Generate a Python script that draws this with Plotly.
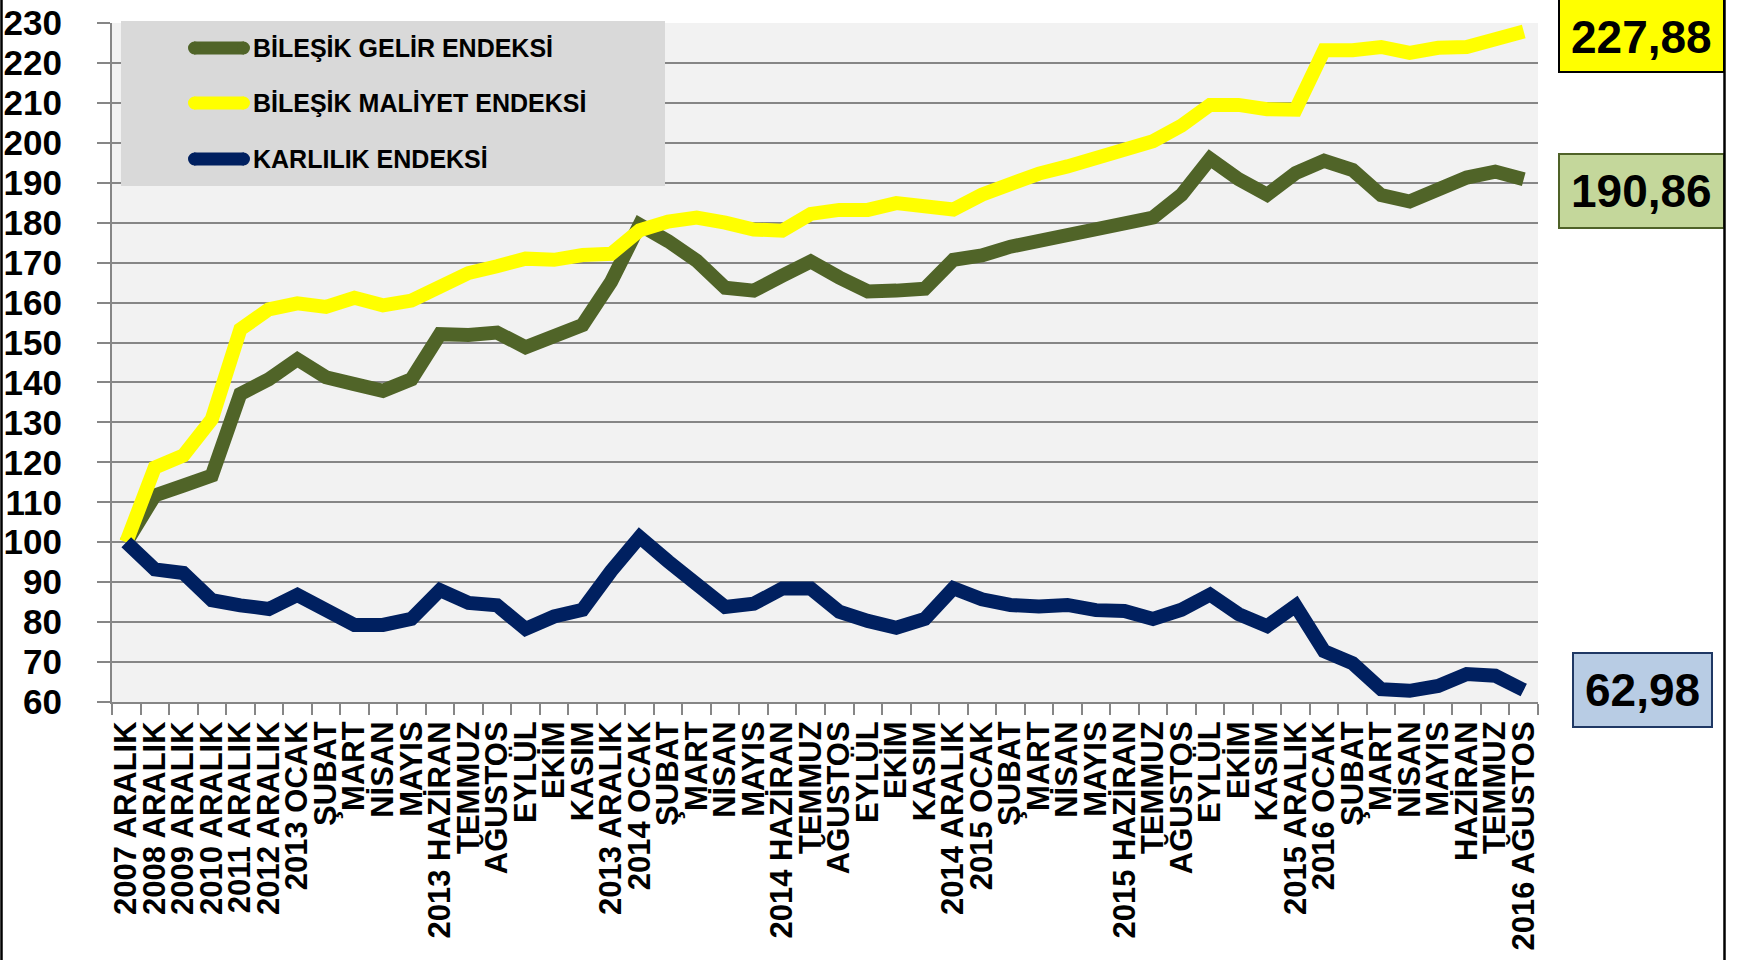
import plotly.graph_objects as go

categories = ["2007 ARALIK", "2008 ARALIK", "2009 ARALIK", "2010 ARALIK", "2011 ARALIK",
              "2012 ARALIK", "2013 OCAK", "ŞUBAT", "MART", "NİSAN", "MAYIS", "2013 HAZİRAN",
              "TEMMUZ", "AĞUSTOS", "EYLÜL", "EKİM", "KASIM", "2013 ARALIK", "2014 OCAK",
              "ŞUBAT", "MART", "NİSAN", "MAYIS", "2014 HAZİRAN", "TEMMUZ", "AĞUSTOS", "EYLÜL",
              "EKİM", "KASIM", "2014 ARALIK", "2015 OCAK", "ŞUBAT", "MART", "NİSAN", "MAYIS",
              "2015 HAZİRAN", "TEMMUZ", "AĞUSTOS", "EYLÜL", "EKİM", "KASIM", "2015 ARALIK",
              "2016 OCAK", "ŞUBAT", "MART", "NİSAN", "MAYIS", "HAZİRAN", "TEMMUZ", "2016 AĞUSTOS"]

gelir = [100, 111.7, 114.2, 116.7, 137.1, 140.8, 145.8, 141.3, 139.6, 137.9,
         140.8, 152.1, 151.9, 152.5, 148.8, 151.3, 154.4, 165.2, 179.5, 175.4,
         170.5, 163.7, 163.0, 166.7, 170.3, 166.3, 162.8, 163.0, 163.5, 170.7,
         171.8, 174.0, 175.5, 177.5, 178.7, 180.0, 181.3, 187.0, 196.0, 190.9,
         187.0, 192.4, 195.5, 193.2, 186.9, 185.3, 188.5, 191.3, 192.8, 190.86]

maliyet = [100, 118.7, 121.7, 130.8, 153.3, 158.3, 159.8, 158.9, 161.2, 159.3,
           160.5, 163.7, 167.4, 169.1, 171.0, 170.7, 171.9, 172.2, 178.1, 180.3,
           181.3, 180.0, 178.3, 178.0, 182.2, 183.2, 183.2, 184.9, 184.1, 183.3,
           187.0, 189.8, 192.3, 194.1, 196.3, 197.8, 200.4, 204.3, 209.5, 209.5,
           208.4, 208.3, 223.2, 223.2, 224.0, 222.5, 223.8, 224.0, 225.7, 227.88]

karlilik = [100, 93.2, 92.3, 85.5, 84.2, 83.3, 86.8, 83.1, 79.3, 79.3,
            80.8, 88.0, 84.8, 84.2, 78.3, 81.4, 83.1, 92.8, 101.3, 95.2,
            89.0, 83.8, 84.6, 88.4, 88.4, 82.6, 80.3, 78.6, 80.8, 88.5,
            85.7, 84.3, 83.9, 84.3, 83.0, 82.8, 80.8, 83.1, 86.9, 82.0,
            79.0, 84.1, 72.7, 69.7, 63.2, 62.8, 64.0, 67.0, 66.6, 62.98]

series_names = ["BİLEŞİK GELİR ENDEKSİ", "BİLEŞİK MALİYET ENDEKSİ", "KARLILIK ENDEKSİ"]
series_colors = ["#506428", "#ffff00", "#002060"]
last_labels = ["190,86", "227,88", "62,98"]
y_ticks = list(range(60, 231, 10))

W, H = 1740, 960
ML, MR, MT, MB = 112, 202, 23, 258
PW, PH = W - ML - MR, H - MT - MB
FONT = "Liberation Sans, Arial, sans-serif"


def px(x):
    return (x - ML) / PW


def py(y):
    return (H - MB - y) / PH


xs = list(range(len(categories)))
fig = go.Figure()
for name, vals, col in zip(series_names, [gelir, maliyet, karlilik], series_colors):
    fig.add_trace(go.Scatter(x=xs, y=vals, mode="lines", name=name,
                             line=dict(color=col, width=14), showlegend=False,
                             hoverinfo="skip"))

shapes = []
annotations = []

# manual legend
shapes.append(dict(type="rect", xref="paper", yref="paper", x0=px(121), x1=px(665),
                   y0=py(186), y1=py(21), fillcolor="#d9d9d9", line=dict(width=0), layer="above"))
legend_y = [48, 103, 159]
for name, col, ly in zip(series_names, series_colors, legend_y):
    shapes.append(dict(type="line", xref="paper", yref="paper", x0=px(194), x1=px(244),
                       y0=py(ly), y1=py(ly), line=dict(color=col, width=13)))
    for cx in (194.5, 243.5):
        shapes.append(dict(type="circle", xref="paper", yref="paper",
                           x0=px(cx - 6.5), x1=px(cx + 6.5), y0=py(ly + 6.5), y1=py(ly - 6.5),
                           fillcolor=col, line=dict(width=0)))
    annotations.append(dict(xref="paper", yref="paper", x=px(251), y=py(ly), text=name,
                            showarrow=False, xanchor="left", yanchor="middle",
                            font=dict(family=FONT, size=25, color="black", weight="bold")))

# value boxes
boxes = [
    (last_labels[1], 1559, 1724, -8, 72, "#ffff00", "#000000", 37),
    (last_labels[0], 1559, 1724, 154, 228, "#c4d79b", "#4f6228", 191),
    (last_labels[2], 1573, 1712, 653, 727, "#b8cce4", "#1f3864", 690),
]
for txt, x0, x1, y0, y1, fill, border, ty in boxes:
    shapes.append(dict(type="rect", xref="paper", yref="paper", x0=px(x0), x1=px(x1),
                       y0=py(y1), y1=py(y0), fillcolor=fill, line=dict(color=border, width=2)))
    annotations.append(dict(xref="paper", yref="paper", x=px((x0 + x1) / 2), y=py(ty), text=txt,
                            showarrow=False, xanchor="center", yanchor="middle",
                            font=dict(family=FONT, size=46, color="black", weight="bold")))

# frame lines
for fx in (1.5, 1724.5):
    shapes.append(dict(type="line", xref="paper", yref="paper", x0=px(fx), x1=px(fx),
                       y0=py(H + 10), y1=py(-10), line=dict(color="black", width=2.5)))

fig.update_layout(
    width=W, height=H,
    margin=dict(l=ML, r=MR, t=MT, b=MB, autoexpand=False),
    paper_bgcolor="white", plot_bgcolor="#f2f2f2",
    shapes=shapes, annotations=annotations, showlegend=False,
    xaxis=dict(range=[-0.5, len(categories) - 0.5], tickmode="array", tickvals=xs,
               ticktext=categories, tickangle=-90, ticks="", showgrid=False, zeroline=False,
               showline=True, linecolor="#868686", linewidth=2, automargin=False,
               tickfont=dict(family=FONT, size=31, color="black", weight="bold"),
               ticklabelstandoff=5, ticklabeloverflow="allow",
               minor=dict(tick0=-0.5, dtick=1, ticks="outside", ticklen=11,
                          tickcolor="#868686", tickwidth=2, showgrid=False)),
    yaxis=dict(range=[60, 230], tickmode="array", tickvals=y_ticks, ticktext=[str(v) for v in y_ticks],
               showgrid=True, gridcolor="#868686", gridwidth=2, zeroline=False,
               showline=True, linecolor="#868686", linewidth=2, automargin=False,
               ticks="outside", ticklen=13, tickcolor="#868686", tickwidth=2,
               ticklabelstandoff=28, ticklabeloverflow="allow",
               tickfont=dict(family=FONT, size=35, color="black", weight="bold")),
)

fig.write_html("out.html", config={"displayModeBar": False},
               post_script="document.body.style.margin='0px';")
